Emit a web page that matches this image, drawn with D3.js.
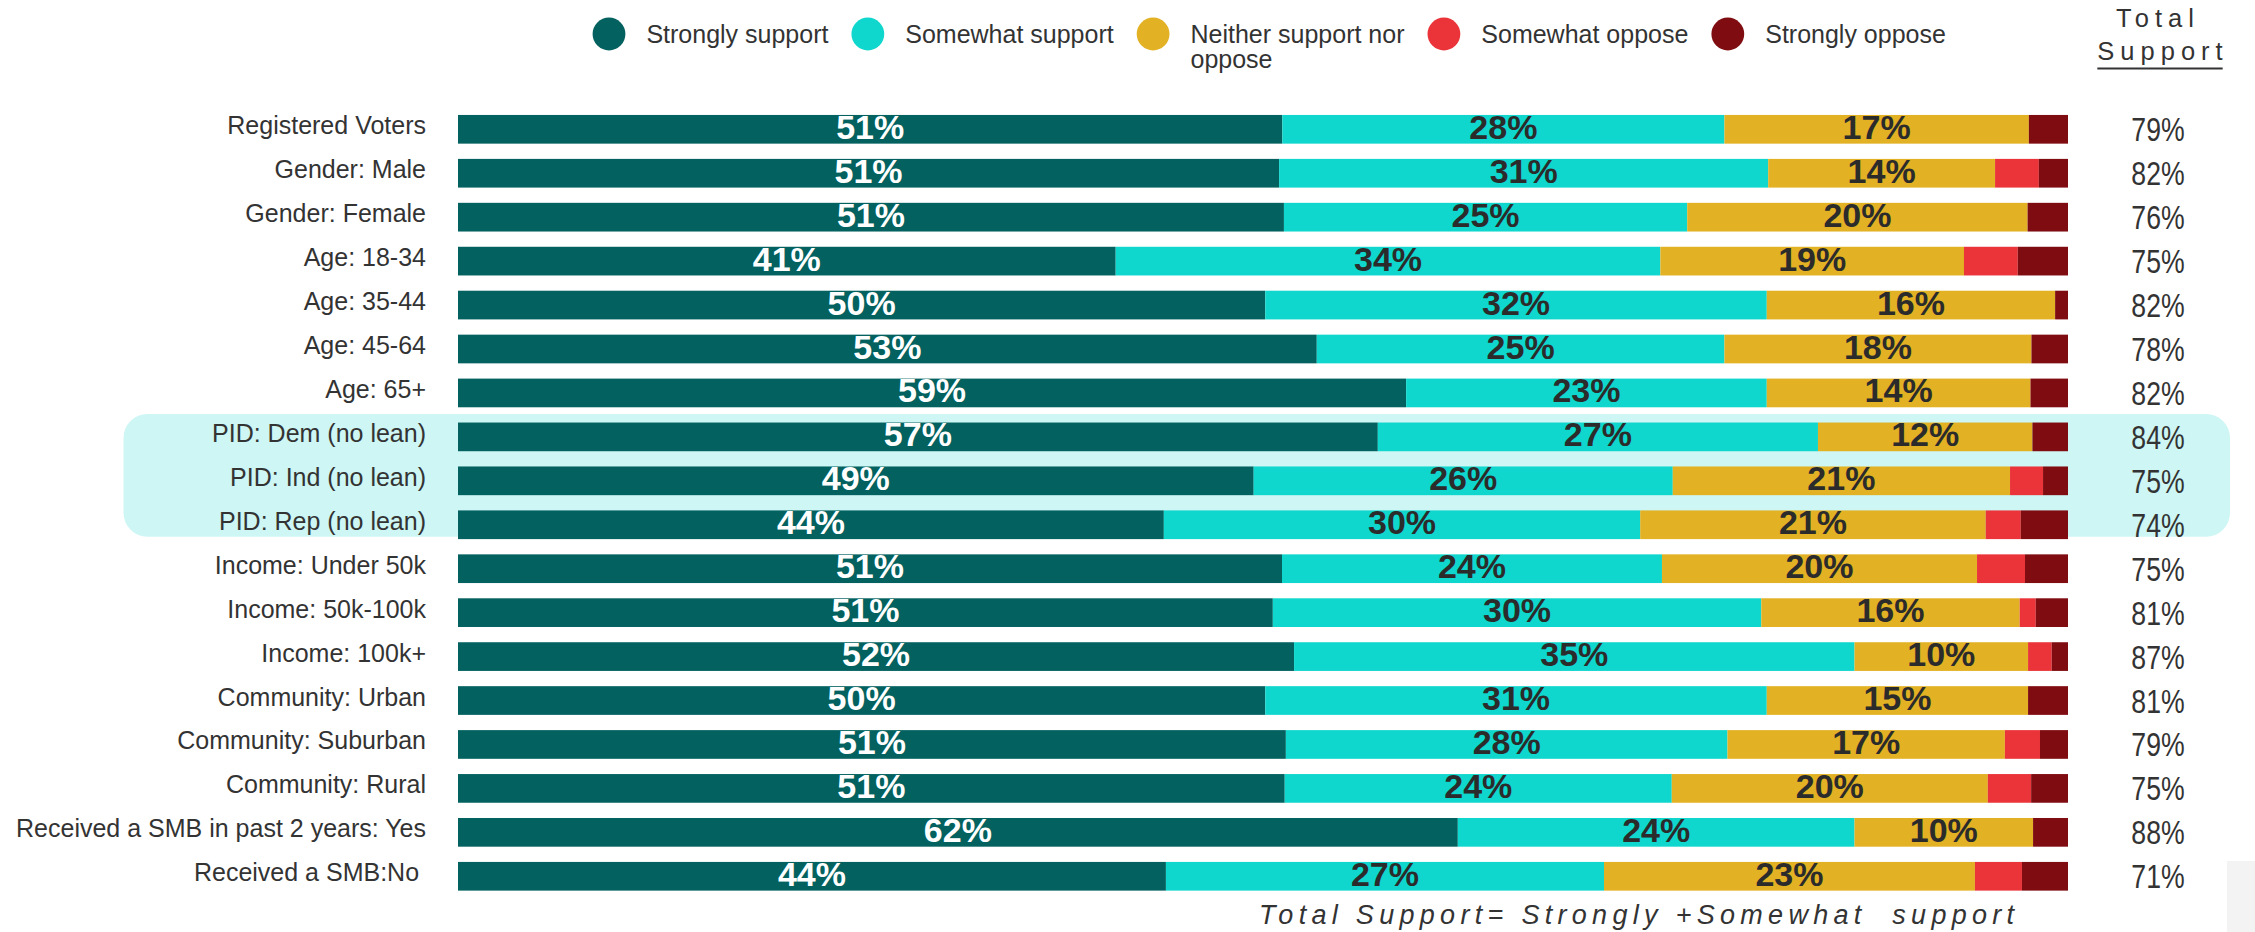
<!DOCTYPE html>
<html>
<head>
<meta charset="utf-8">
<script src="https://cdn.jsdelivr.net/npm/d3@7"></script>
<style>
  html, body { margin: 0; padding: 0; background: #ffffff; }
  svg { display: block; }
</style>
</head>
<body>
<svg id="chart" width="2255" height="932"></svg>
<script>
// ---------------- DATA ----------------
const categories = [
  "Registered Voters", "Gender: Male", "Gender: Female", "Age: 18-34", "Age: 35-44",
  "Age: 45-64", "Age: 65+", "PID: Dem (no lean)", "PID: Ind (no lean)", "PID: Rep (no lean)",
  "Income: Under 50k", "Income: 50k-100k", "Income: 100k+", "Community: Urban",
  "Community: Suburban", "Community: Rural", "Received a SMB in past 2 years: Yes",
  "Received a SMB:No\u00a0"
];
const seriesNames = ["Strongly support", "Somewhat support", "Neither support nor oppose", "Somewhat oppose", "Strongly oppose"];

// segment sizes as drawn (percent of the bar)
const stronglySupport = [51.2, 51.0, 51.3, 40.85, 50.14, 53.34, 58.89, 57.13, 49.42, 43.84, 51.18, 50.61, 51.93, 50.14, 51.42, 51.35, 62.10, 43.97];
const somewhatSupport = [27.46, 30.38, 25.05, 33.83, 31.15, 25.32, 22.40, 27.34, 26.03, 29.59, 23.60, 30.34, 34.81, 31.15, 27.43, 24.04, 24.64, 27.21];
const neither         = [18.91, 14.09, 21.14, 18.86, 17.91, 19.07, 16.38, 13.32, 20.95, 21.46, 19.57, 16.05, 10.78, 16.23, 17.23, 19.63, 11.09, 23.04];
const somewhatOppose  = [0, 2.72, 0, 3.34, 0, 0, 0, 0, 2.05, 2.18, 2.98, 1.0, 1.47, 0, 2.18, 2.69, 0, 2.92];
const stronglyOppose  = [2.43, 1.81, 2.51, 3.12, 0.8, 2.27, 2.33, 2.21, 1.55, 2.93, 2.67, 2.0, 1.01, 2.48, 1.74, 2.29, 2.17, 2.86];

// printed labels
const stronglyLabels = [51, 51, 51, 41, 50, 53, 59, 57, 49, 44, 51, 51, 52, 50, 51, 51, 62, 44];
const somewhatLabels = [28, 31, 25, 34, 32, 25, 23, 27, 26, 30, 24, 30, 35, 31, 28, 24, 24, 27];
const neitherLabels  = [17, 14, 20, 19, 16, 18, 14, 12, 21, 21, 20, 16, 10, 15, 17, 20, 10, 23];
const totalSupport   = [79, 82, 76, 75, 82, 78, 82, 84, 75, 74, 75, 81, 87, 81, 79, 75, 88, 71];

const highlighted = ["PID: Dem (no lean)", "PID: Ind (no lean)", "PID: Rep (no lean)"];
const totalHeader = ["Total", "Support"];
const footnote = "Total Support= Strongly +Somewhat\u00a0\u00a0support";

// ---------------- STYLE ----------------
const colors = ["#03615f", "#0fd7cd", "#e2b124", "#ea3439", "#7f0c10"];
const labelColors = ["#ffffff", "#2b2b2b", "#2b2b2b"];
const textColor = "#333333";
const FONT = "'Liberation Sans', Arial, sans-serif";

const svg = d3.select("#chart");

const keys = ["s", "w", "n", "o", "x"];
const rows = categories.map((c, i) => ({
  cat: c, s: stronglySupport[i], w: somewhatSupport[i], n: neither[i],
  o: somewhatOppose[i], x: stronglyOppose[i], i
}));

const x = d3.scaleLinear().domain([0, 100]).range([458, 2068]);
const y = d3.scaleBand().domain(categories).range([107.33, 898.25])
  .paddingInner(0.347).paddingOuter(0.1735);
const bw = y.bandwidth();

// highlight band
const hiTop = y(highlighted[0]) + bw / 2 - 23;
const hiBot = y(highlighted[highlighted.length - 1]) + bw / 2 + 12;
svg.append("rect")
  .attr("x", 123.5).attr("y", hiTop)
  .attr("width", 2230 - 123.5).attr("height", hiBot - hiTop)
  .attr("rx", 24).attr("ry", 24)
  .attr("fill", "#cdf6f4");

// gray corner box
svg.append("rect").attr("x", 2227).attr("y", 861).attr("width", 28).attr("height", 71).attr("fill", "#f3f3f3");

// stacked bars
const stacked = d3.stack().keys(keys)(rows);
const gBars = svg.append("g");
stacked.forEach((layer, li) => {
  gBars.append("g").attr("fill", colors[li])
    .selectAll("rect").data(layer).join("rect")
    .attr("x", d => x(d[0]))
    .attr("y", d => y(d.data.cat))
    .attr("width", d => Math.max(0, x(d[1]) - x(d[0])))
    .attr("height", bw);
});

// segment labels
const labelSets = [stronglyLabels, somewhatLabels, neitherLabels];
labelSets.forEach((lbls, li) => {
  svg.append("g").selectAll("text").data(stacked[li]).join("text")
    .attr("x", d => x((d[0] + d[1]) / 2))
    .attr("y", d => y(d.data.cat) + bw / 2 + 9.5)
    .attr("text-anchor", "middle")
    .attr("font-family", FONT).attr("font-weight", "bold").attr("font-size", 34)
    .attr("fill", labelColors[li])
    .text(d => lbls[d.data.i] + "%");
});

// category labels
svg.append("g").selectAll("text").data(categories).join("text")
  .attr("x", 426)
  .attr("y", d => y(d) + bw / 2 + 5)
  .attr("text-anchor", "end")
  .attr("font-family", FONT).attr("font-size", 25)
  .attr("fill", textColor)
  .text(d => d);

// total support values (narrow style)
svg.append("g").selectAll("text").data(categories).join("text")
  .attr("transform", d => `translate(2158,${y(d) + bw / 2 + 12}) scale(0.82,1)`)
  .attr("text-anchor", "middle")
  .attr("font-family", FONT).attr("font-size", 32.5)
  .attr("fill", textColor)
  .text((d, i) => totalSupport[i] + "%");

// total header
const hdr = svg.append("g").attr("font-family", FONT).attr("font-size", 25.5)
  .attr("letter-spacing", 6).attr("fill", textColor).attr("text-anchor", "middle");
hdr.append("text").attr("x", 2158).attr("y", 27).text(totalHeader[0]);
const sup = hdr.append("text").attr("x", 2163).attr("y", 59.5).text(totalHeader[1]);
const sb = sup.node().getBBox();
svg.append("line").attr("x1", sb.x).attr("x2", sb.x + sb.width - 6)
  .attr("y1", 68.5).attr("y2", 68.5).attr("stroke", textColor).attr("stroke-width", 2.2);

// legend
const legend = svg.append("g").attr("font-family", FONT).attr("font-size", 25).attr("fill", textColor);
let cursor = 592.6;
const r = 16.4;
seriesNames.forEach((name, i) => {
  legend.append("circle").attr("cx", cursor + r).attr("cy", 34).attr("r", r).attr("fill", colors[i]);
  const tx = cursor + 2 * r + 21;
  const lines = name === "Neither support nor oppose" ? ["Neither support nor", "oppose"] : [name];
  let maxW = 0;
  lines.forEach((ln, k) => {
    const t = legend.append("text").attr("x", tx).attr("y", 42.7 + k * 25).text(ln);
    maxW = Math.max(maxW, t.node().getComputedTextLength());
  });
  cursor = tx + maxW + 23;
});

// footnote
svg.append("text")
  .attr("x", 1259).attr("y", 924)
  .attr("font-family", FONT).attr("font-style", "italic").attr("font-size", 27)
  .attr("letter-spacing", 5.3)
  .attr("fill", textColor)
  .text(footnote);
</script>
</body>
</html>
